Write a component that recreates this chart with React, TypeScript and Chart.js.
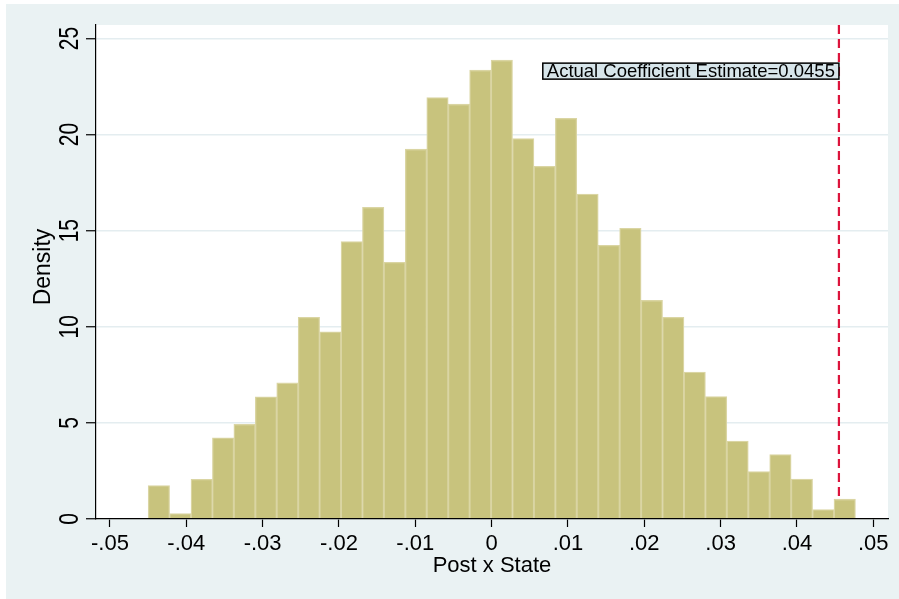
import React, { useEffect, useRef } from "react";
import { Chart, registerables } from "chart.js";

Chart.register(...registerables);

// ---- data ----
const binCenters = [
  -0.043596, -0.040788, -0.03798, -0.035172, -0.032364, -0.029556, -0.026748,
  -0.02394, -0.021132, -0.018324, -0.015516, -0.012708, -0.0099, -0.007092,
  -0.004284, -0.001476, 0.001332, 0.00414, 0.006948, 0.009756, 0.012564,
  0.015372, 0.01818, 0.020988, 0.023796, 0.026604, 0.029412, 0.03222,
  0.035028, 0.037836, 0.040644, 0.043452, 0.04626,
];
const densities = [
  1.74, 0.28, 2.06, 4.22, 4.93, 6.36, 7.08, 10.49, 9.74, 14.43, 16.22, 13.35,
  19.24, 21.93, 21.58, 23.35, 23.87, 19.79, 18.35, 20.85, 16.91, 14.24, 15.12,
  11.37, 10.49, 7.64, 6.37, 4.05, 2.47, 3.35, 2.08, 0.49, 1.03,
];
const xTicks = [-0.05, -0.04, -0.03, -0.02, -0.01, 0, 0.01, 0.02, 0.03, 0.04, 0.05];
const xTickLabels = ["-.05", "-.04", "-.03", "-.02", "-.01", "0", ".01", ".02", ".03", ".04", ".05"];
const yTicks = [0, 5, 10, 15, 20, 25];
const yTickLabels = ["0", "5", "10", "15", "20", "25"];
const actualCoef = 0.0455;
const annotationText = "Actual Coefficient Estimate=0.0455";
const annotationY = 23.3;
const xTitle = "Post x State";
const yTitle = "Density";

const FONT = "'Liberation Sans', Arial, Helvetica, sans-serif";

const stataPlugin = {
  id: "stataDecor",
  beforeDraw(chart: any) {
    const { ctx, chartArea: a, width, height } = chart;
    ctx.save();
    ctx.fillStyle = "#ffffff";
    ctx.fillRect(0, 0, width, height);
    ctx.fillStyle = "#EAF2F3";
    ctx.fillRect(6, 4, width - 6, height - 4);
    ctx.fillStyle = "#ffffff";
    ctx.fillRect(a.left, a.top, a.right - a.left, a.bottom - a.top);
    ctx.restore();
  },
  beforeDatasetsDraw(chart: any) {
    const { ctx, chartArea: a } = chart;
    const x = chart.scales.x.getPixelForValue(actualCoef);
    ctx.save();
    ctx.strokeStyle = "#DC143C";
    ctx.lineWidth = 2.2;
    ctx.setLineDash([9, 5]);
    ctx.beginPath();
    ctx.moveTo(x, a.top);
    ctx.lineTo(x, a.bottom);
    ctx.stroke();
    ctx.restore();
  },
  afterDraw(chart: any) {
    const { ctx, chartArea: a } = chart;
    const xs = chart.scales.x;
    const ys = chart.scales.y;
    ctx.save();
    // y tick labels (rotated, tall glyphs)
    ctx.fillStyle = "#000";
    ctx.font = `21px ${FONT}`;
    ctx.textAlign = "center";
    ctx.textBaseline = "middle";
    yTicks.forEach((v, i) => {
      const py = ys.getPixelForValue(v);
      ctx.save();
      ctx.translate(70, py);
      ctx.rotate(-Math.PI / 2);
      ctx.scale(1, 1.35);
      ctx.fillText(yTickLabels[i], 0, 0);
      ctx.restore();
    });
    // y title
    ctx.save();
    ctx.font = `23px ${FONT}`;
    ctx.translate(44, 267);
    ctx.rotate(-Math.PI / 2);
    ctx.fillText(yTitle, 0, 0);
    ctx.restore();
    // x title
    ctx.font = `22px ${FONT}`;
    ctx.textBaseline = "alphabetic";
    ctx.fillText(xTitle, (a.left + a.right) / 2, 572);
    // annotation box
    const xr = xs.getPixelForValue(actualCoef);
    const yc = ys.getPixelForValue(annotationY);
    ctx.font = `18.5px ${FONT}`;
    const tw = ctx.measureText(annotationText).width;
    const bw = tw + 8;
    const bh = 16;
    const bx = xr - bw;
    const by = yc - bh / 2;
    ctx.fillStyle = "#D7E5EA";
    ctx.fillRect(bx, by, bw, bh);
    ctx.strokeStyle = "#000";
    ctx.lineWidth = 1.5;
    ctx.strokeRect(bx, by, bw, bh);
    ctx.fillStyle = "#000";
    ctx.textAlign = "center";
    ctx.textBaseline = "middle";
    ctx.fillText(annotationText, bx + bw / 2, yc + 0.5);
    ctx.restore();
  },
};

export default function App() {
  const canvasRef = useRef<HTMLCanvasElement | null>(null);

  useEffect(() => {
    if (!canvasRef.current) return;
    const chart = new Chart(canvasRef.current, {
      type: "bar",
      data: {
        datasets: [
          {
            data: binCenters.map((x, i) => ({ x, y: densities[i] })),
            backgroundColor: "#C8C37D",
            borderColor: "#DAD5A3",
            borderWidth: 1.3,
            borderSkipped: "start",
            barPercentage: 1,
            categoryPercentage: 1,
          },
        ],
      },
      options: {
        animation: false,
        responsive: false,
        devicePixelRatio: 1,
        layout: { padding: { left: 0, top: 25, right: 11, bottom: 0 } },
        plugins: { legend: { display: false }, tooltip: { enabled: false } },
        scales: {
          x: {
            type: "linear",
            offset: false,
            min: -0.05183,
            max: 0.05193,
            afterBuildTicks: (s: any) => {
              s.ticks = xTicks.map((v) => ({ value: v }));
            },
            afterFit: (s: any) => {
              s.height = 80;
            },
            grid: {
              offset: false,
              drawOnChartArea: false,
              drawTicks: true,
              tickLength: 8,
              tickColor: "#000",
              tickWidth: 1.2,
            },
            border: { display: true, color: "#000", width: 1.2, z: 1 },
            ticks: {
              autoSkip: false,
              maxRotation: 0,
              minRotation: 0,
              padding: 4,
              color: "#000",
              font: { family: FONT, size: 22 },
              callback: (_v: any, i: number) => xTickLabels[i],
            },
          },
          y: {
            type: "linear",
            min: 0,
            max: 25.7,
            afterBuildTicks: (s: any) => {
              s.ticks = yTicks.map((v) => ({ value: v }));
            },
            afterFit: (s: any) => {
              s.width = 96;
            },
            grid: {
              color: "#E4EDF0",
              lineWidth: 1.5,
              drawTicks: true,
              tickLength: 10,
              tickColor: "#000",
              tickWidth: 1.2,
            },
            border: { display: true, color: "#000", width: 1.2, z: 1 },
            ticks: { display: false },
          },
        },
      },
      plugins: [stataPlugin],
    } as any);
    return () => chart.destroy();
  }, []);

  return (
    <div style={{ position: "absolute", left: 0, top: 0, width: 899, height: 599 }}>
      <canvas ref={canvasRef} width={899} height={599} style={{ display: "block" }} />
    </div>
  );
}
